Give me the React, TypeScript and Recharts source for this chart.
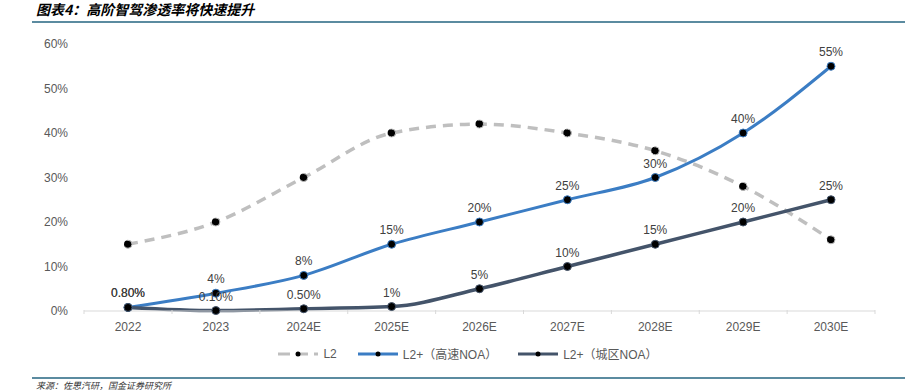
import { LineChart, Line, XAxis, YAxis, LabelList } from "recharts";

const years = ["2022", "2023", "2024E", "2025E", "2026E", "2027E", "2028E", "2029E", "2030E"];
const l2 = [15, 20, 30, 40, 42, 40, 36, 28, 16];
const highwayNoa = [0.8, 4, 8, 15, 20, 25, 30, 40, 55];
const urbanNoa = [0.8, 0.1, 0.5, 1, 5, 10, 15, 20, 25];
const yTicks = [0, 10, 20, 30, 40, 50, 60];

const series = [
  { key: "l2", name: "L2", color: "#BFBFBF", dash: "10 7", labels: false },
  { key: "highway", name: "L2+（高速NOA）", color: "#3B7DC4", dash: undefined, labels: true },
  { key: "urban", name: "L2+（城区NOA）", color: "#44546A", dash: undefined, labels: true },
];

const data = years.map((year, i) => ({
  year,
  l2: l2[i],
  highway: highwayNoa[i],
  urban: urbanNoa[i],
}));

const FONT = "'Liberation Sans', Arial, 'Noto Sans CJK SC', sans-serif";
const fmt = (v: number) => (v < 1 ? v.toFixed(2) + "%" : v + "%");

const XTick = (props: any) => {
  const { x, y, payload, index } = props;
  return (
    <g>
      {index === 0 && <line x1={x - 44} x2={x - 44} y1={y - 9} y2={y - 5} stroke="#D9D9D9" />}
      <line x1={x + 44} x2={x + 44} y1={y - 9} y2={y - 5} stroke="#D9D9D9" />
      <text x={x} y={y + 12} textAnchor="middle" fontSize={12} fill="#595959" fontFamily={FONT}>
        {payload.value}
      </text>
    </g>
  );
};

export default function App() {
  return (
    <div style={{ position: "absolute", left: 0, top: 0, width: 905, height: 392, background: "#fff", overflow: "hidden" }}>
      <div
        style={{
          position: "absolute",
          left: 36,
          top: 0,
          fontSize: 14,
          fontWeight: "bold",
          fontStyle: "italic",
          fontFamily: "'Noto Sans CJK SC', sans-serif",
          color: "#000",
          lineHeight: "18px",
        }}
      >
        图表4：高阶智驾渗透率将快速提升
      </div>
      <div style={{ position: "absolute", left: 32, top: 21, width: 873, height: 2, background: "#5B8BA0" }} />
      <div style={{ position: "absolute", left: 0, top: 0 }}>
        <LineChart width={905} height={340} data={data} margin={{ top: 44, right: 30, bottom: 0, left: 0 }}>
          <XAxis
            dataKey="year"
            axisLine={{ stroke: "#D9D9D9" }}
            tickLine={false}
            tick={<XTick />}
            height={29}
            interval={0}
            padding={{ left: 44, right: 44 }}
          />
          <YAxis
            domain={[0, 60]}
            ticks={yTicks}
            tickFormatter={(v) => v + "%"}
            axisLine={false}
            tickLine={false}
            width={84}
            tick={{ fontSize: 12, fill: "#595959", fontFamily: FONT }}
            tickMargin={10}
          />
          {series.map((s) => (
            <Line
              key={s.key}
              type="monotone"
              dataKey={s.key}
              name={s.name}
              stroke={s.color}
              strokeWidth={s.key === "highway" ? 3 : 3.5}
              strokeDasharray={s.dash}
              dot={{ r: 4, fill: "#000", stroke: s.color, strokeWidth: 1 }}
              isAnimationActive={false}
            >
              {s.labels && (
                <LabelList
                  dataKey={s.key}
                  position="top"
                  offset={10}
                  formatter={(v: any) => fmt(Number(v))}
                  style={{ fontSize: 12, fill: "#404040", fontFamily: FONT }}
                />
              )}
            </Line>
          ))}
        </LineChart>
      </div>
      <div
        style={{
          position: "absolute",
          top: 345,
          left: 0,
          width: 905,
          display: "flex",
          justifyContent: "center",
          gap: 21,
          fontSize: 12,
          fontFamily: FONT,
          color: "#595959",
          paddingLeft: 31,
          boxSizing: "border-box",
        }}
      >
        {series.map((s) => (
          <div key={s.key} style={{ display: "flex", alignItems: "center", gap: 5 }}>
            <svg width={40} height={10}>
              <line x1={0} x2={40} y1={5} y2={5} stroke={s.color} strokeWidth={3} strokeDasharray={s.dash ? "12 6" : undefined} />
              <circle cx={20} cy={5} r={2.5} fill="#000" />
            </svg>
            <span>{s.name}</span>
          </div>
        ))}
      </div>
      <div style={{ position: "absolute", left: 32, top: 377, width: 873, height: 2, background: "#5B8BA0" }} />
      <div
        style={{
          position: "absolute",
          left: 36,
          top: 380,
          fontSize: 9,
          fontStyle: "italic",
          fontFamily: "'Noto Sans CJK SC', sans-serif",
          color: "#333",
          lineHeight: "11px",
        }}
      >
        来源：佐思汽研，国金证券研究所
      </div>
    </div>
  );
}
